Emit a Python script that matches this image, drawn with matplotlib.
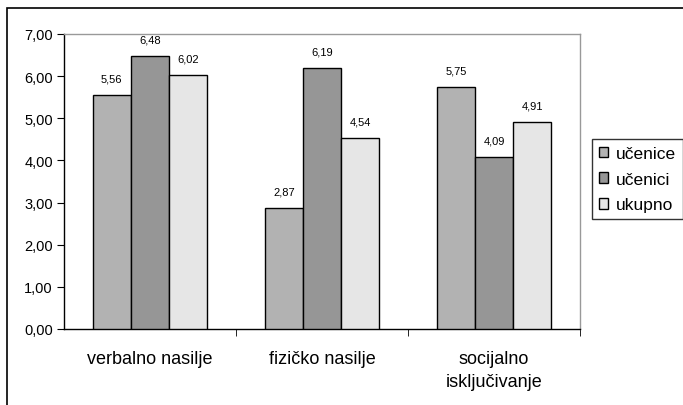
import matplotlib
matplotlib.use("Agg")
import matplotlib.pyplot as plt
import matplotlib.patches as mpatches
import numpy as np

plt.rcParams['font.family'] = ['Liberation Sans', 'DejaVu Sans']

categories = ["verbalno nasilje", "fizičko nasilje", "socijalno\nisključivanje"]
series_names = ["učenice", "učenici", "ukupno"]
ucenice = [5.56, 2.87, 5.75]
ucenici = [6.48, 6.19, 4.09]
ukupno = [6.02, 4.54, 4.91]
colors = ["#b2b2b2", "#969696", "#e6e6e6"]
yticks = [0, 1, 2, 3, 4, 5, 6, 7]

fig = plt.figure(figsize=(6.83, 4.06), dpi=100)
ax = fig.add_axes([64/683, 1-330/406, (580-64)/683, (330-35)/406])

# outer frame
fig.patches.append(mpatches.Rectangle((7/683, -0.1), 1.1, 1-9/406+0.1,
                                      transform=fig.transFigure, fill=False,
                                      edgecolor='black', linewidth=1.2, zorder=0))

x = np.arange(len(categories))
w = 0.222
data = [ucenice, ucenici, ukupno]
for i, (vals, name, c) in enumerate(zip(data, series_names, colors)):
    pos = x + (i - 1) * w
    bars = ax.bar(pos, vals, width=w, color=c, edgecolor='black', linewidth=1.0, label=name, zorder=3)
    for b, v in zip(bars, vals):
        ax.text(b.get_x() + b.get_width()/2, v + 0.27, f"{v:.2f}".replace('.', ','),
                ha='center', va='bottom', fontsize=8)

ax.set_xlim(-0.5, 2.5)
ax.set_ylim(0, 7)
ax.set_yticks(yticks)
ax.set_yticklabels([f"{t:.2f}".replace('.', ',') for t in yticks], fontsize=10.5)
ax.set_xticks(x)
ax.set_xticklabels(categories, fontsize=13, linespacing=1.45)
ax.tick_params(axis='x', length=0, pad=15)
ax.set_xticks([0.5, 1.5, 2.5], minor=True)
ax.tick_params(axis='x', which='minor', length=5, direction='out', color='black')
ax.tick_params(axis='y', length=5, direction='out', color='black', pad=3)

for s in ['top', 'right']:
    ax.spines[s].set_color('#999999')
    ax.spines[s].set_linewidth(1.0)
for s in ['left', 'bottom']:
    ax.spines[s].set_color('black')
    ax.spines[s].set_linewidth(1.0)

leg = ax.legend(loc='upper left', bbox_to_anchor=(592/683, 1-140/406), bbox_transform=fig.transFigure,
                frameon=True, fancybox=False, edgecolor='black', fontsize=12.5,
                handlelength=0.55, handleheight=0.55, handletextpad=0.4, labelspacing=0.62,
                borderpad=0.4, borderaxespad=0)
leg.get_frame().set_linewidth(1.0)

fig.savefig("out.png", dpi=100)
